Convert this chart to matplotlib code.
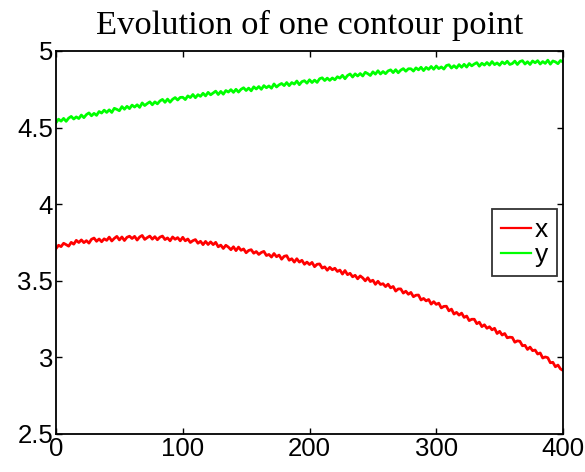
import matplotlib
matplotlib.use("Agg")
import matplotlib.pyplot as plt

# iteration index (every 2 steps)
steps = list(range(0, 401, 2))

x_coord = [
    3.710, 3.732, 3.723, 3.745, 3.736, 3.726, 3.751, 3.739, 3.764, 3.750,
    3.767, 3.749, 3.762, 3.746, 3.771, 3.779, 3.758, 3.773, 3.755, 3.774,
    3.764, 3.785, 3.760, 3.777, 3.790, 3.767, 3.786, 3.763, 3.784, 3.791,
    3.776, 3.790, 3.766, 3.786, 3.796, 3.770, 3.782, 3.792, 3.772, 3.788,
    3.768, 3.785, 3.792, 3.769, 3.780, 3.761, 3.786, 3.771, 3.782, 3.761,
    3.784, 3.761, 3.773, 3.750, 3.762, 3.769, 3.745, 3.758, 3.736, 3.757,
    3.737, 3.754, 3.736, 3.751, 3.722, 3.733, 3.711, 3.732, 3.720, 3.703,
    3.722, 3.697, 3.720, 3.699, 3.708, 3.683, 3.698, 3.703, 3.680, 3.691,
    3.672, 3.685, 3.692, 3.665, 3.672, 3.655, 3.678, 3.657, 3.668, 3.641,
    3.660, 3.664, 3.634, 3.644, 3.622, 3.644, 3.622, 3.634, 3.608, 3.622,
    3.606, 3.620, 3.592, 3.608, 3.610, 3.583, 3.591, 3.569, 3.588, 3.572,
    3.582, 3.561, 3.570, 3.544, 3.567, 3.540, 3.549, 3.526, 3.536, 3.513,
    3.532, 3.519, 3.500, 3.520, 3.495, 3.504, 3.477, 3.497, 3.476, 3.481,
    3.462, 3.478, 3.454, 3.463, 3.433, 3.447, 3.447, 3.420, 3.432, 3.412,
    3.424, 3.396, 3.406, 3.407, 3.375, 3.385, 3.369, 3.378, 3.348, 3.364,
    3.346, 3.354, 3.323, 3.333, 3.334, 3.304, 3.315, 3.283, 3.294, 3.276,
    3.289, 3.261, 3.270, 3.240, 3.249, 3.249, 3.220, 3.230, 3.201, 3.213,
    3.190, 3.200, 3.180, 3.190, 3.156, 3.170, 3.146, 3.156, 3.128, 3.132,
    3.130, 3.099, 3.108, 3.105, 3.076, 3.079, 3.052, 3.067, 3.044, 3.048,
    3.022, 3.029, 2.996, 3.003, 2.998, 2.965, 2.968, 2.939, 2.950, 2.925,
    2.915,
]

y_coord = [
    4.532, 4.555, 4.542, 4.560, 4.541, 4.562, 4.573, 4.556, 4.570, 4.559,
    4.582, 4.565, 4.585, 4.596, 4.577, 4.593, 4.580, 4.605, 4.595, 4.614,
    4.599, 4.616, 4.599, 4.626, 4.619, 4.610, 4.637, 4.620, 4.639, 4.624,
    4.647, 4.634, 4.649, 4.632, 4.661, 4.644, 4.657, 4.668, 4.649, 4.668,
    4.655, 4.674, 4.684, 4.665, 4.686, 4.666, 4.685, 4.696, 4.680, 4.697,
    4.698, 4.683, 4.707, 4.696, 4.716, 4.695, 4.715, 4.704, 4.724, 4.707,
    4.730, 4.714, 4.726, 4.738, 4.716, 4.736, 4.718, 4.742, 4.732, 4.748,
    4.730, 4.750, 4.732, 4.750, 4.760, 4.742, 4.758, 4.740, 4.766, 4.752,
    4.768, 4.750, 4.774, 4.760, 4.772, 4.757, 4.785, 4.765, 4.779, 4.788,
    4.774, 4.794, 4.774, 4.794, 4.784, 4.804, 4.780, 4.800, 4.806, 4.790,
    4.812, 4.794, 4.810, 4.795, 4.819, 4.825, 4.807, 4.823, 4.808, 4.824,
    4.812, 4.832, 4.823, 4.841, 4.819, 4.840, 4.850, 4.830, 4.851, 4.837,
    4.853, 4.837, 4.861, 4.852, 4.840, 4.864, 4.849, 4.871, 4.850, 4.866,
    4.852, 4.870, 4.877, 4.859, 4.878, 4.858, 4.875, 4.885, 4.868, 4.884,
    4.884, 4.869, 4.890, 4.877, 4.894, 4.872, 4.893, 4.880, 4.899, 4.881,
    4.902, 4.885, 4.896, 4.882, 4.905, 4.910, 4.889, 4.904, 4.889, 4.911,
    4.894, 4.913, 4.895, 4.918, 4.903, 4.915, 4.924, 4.901, 4.920, 4.908,
    4.925, 4.908, 4.931, 4.911, 4.922, 4.907, 4.929, 4.916, 4.933, 4.912,
    4.918, 4.934, 4.912, 4.931, 4.937, 4.915, 4.930, 4.912, 4.935, 4.923,
    4.937, 4.915, 4.931, 4.919, 4.940, 4.914, 4.935, 4.929, 4.917, 4.938,
    4.928,
]

x_ticks = [0, 100, 200, 300, 400]
y_ticks = [2.5, 3, 3.5, 4, 4.5, 5]
y_ticklabels = ["2.5", "3", "3.5", "4", "4.5", "5"]
series_labels = ["x", "y"]
series_colors = ["#ff0000", "#00ff00"]
title = "Evolution of one contour point"

fig = plt.figure(figsize=(5.85, 4.72), dpi=100)
ax = fig.add_axes([56 / 585, 1 - 434 / 472, (563 - 56) / 585, (434 - 51) / 472])

ax.plot(steps, x_coord, color=series_colors[0], lw=2.0, label=series_labels[0])
ax.plot(steps, y_coord, color=series_colors[1], lw=2.0, label=series_labels[1])

ax.set_xlim(0, 400)
ax.set_ylim(2.5, 5)
ax.set_xticks(x_ticks)
ax.set_yticks(y_ticks)
ax.set_yticklabels(y_ticklabels)
for lab in ax.get_xticklabels() + ax.get_yticklabels():
    lab.set_family("Liberation Sans")
    lab.set_fontsize(18.5)
ax.tick_params(direction="in", length=4, width=1, top=True, right=True,
               pad=2, colors="black")
for s in ax.spines.values():
    s.set_linewidth(1.3)

ax.set_title(title, family="Liberation Serif", fontsize=24.8, pad=12)

leg = ax.legend(loc="center right", bbox_to_anchor=(0.988, 0.5),
                borderaxespad=0, prop={"family": "Liberation Sans", "size": 19},
                frameon=True, fancybox=False, edgecolor="black",
                handlelength=1.15, handletextpad=0.12, labelspacing=0.05,
                borderpad=0.35)
leg.get_frame().set_linewidth(1.3)
for h in leg.get_lines():
    h.set_linewidth(1.6)

fig.savefig("out.png", dpi=100)
